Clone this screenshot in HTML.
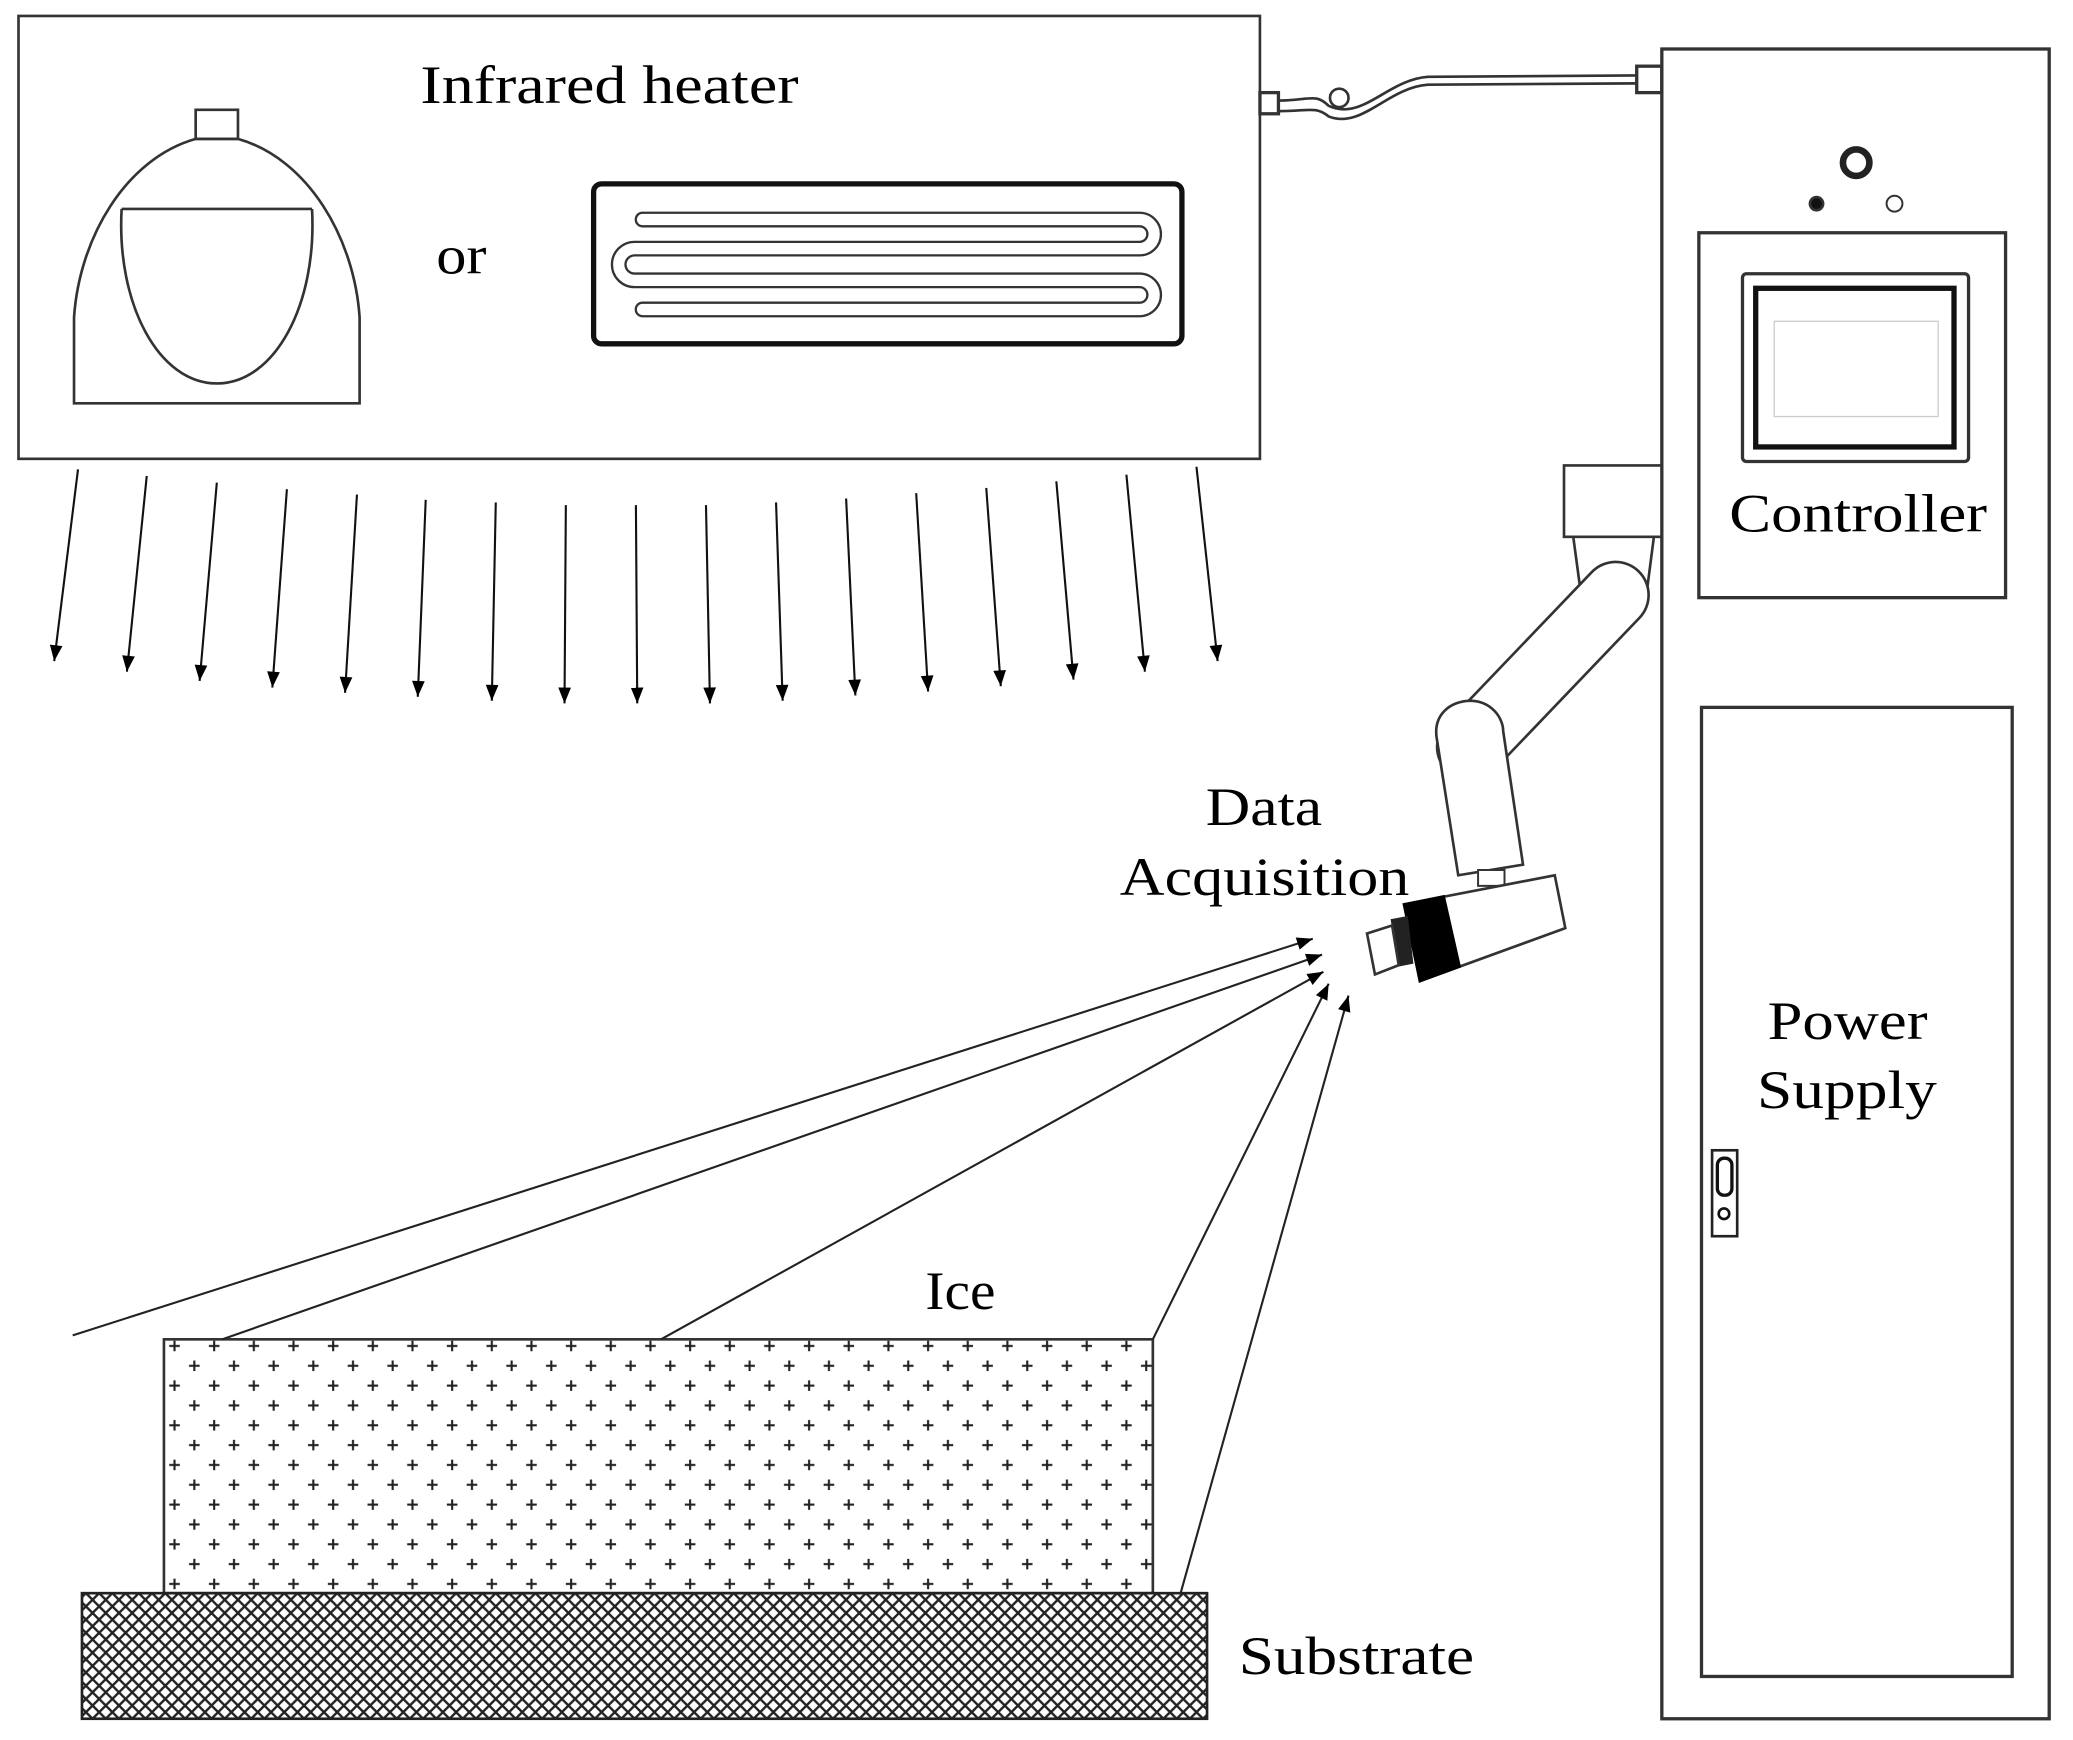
<!DOCTYPE html>
<html><head><meta charset="utf-8"><style>
html,body{margin:0;padding:0;background:#fff;}
svg{display:block;}
text{font-family:"Liberation Serif",serif;fill:#000;}
</style></head><body>
<svg width="2073" height="1740" viewBox="0 0 1568 1316" xmlns="http://www.w3.org/2000/svg">
<defs>
<pattern id="ice" x="124" y="1013" width="30" height="30" patternUnits="userSpaceOnUse">
<path d="M4,5 h8 M8,1 v8 M19,20 h8 M23,16 v8" stroke="#222" stroke-width="1.6"/>
</pattern>
<pattern id="hatch" x="0" y="0" width="10" height="10" patternUnits="userSpaceOnUse">
<path d="M0,0 L10,10 M10,0 L0,10 M-5,5 L5,15 M5,-5 L15,5 M5,-5 L-5,5 M15,5 L5,15" stroke="#222" stroke-width="1.8"/>
</pattern>
<marker id="ah2" viewBox="0 0 10 10" refX="10" refY="5" markerWidth="20" markerHeight="12" markerUnits="userSpaceOnUse" orient="auto">
<path d="M0,1 L10,5 L0,9 Z" fill="#000"/>
</marker>
</defs>
<g fill="none" stroke="#333" stroke-width="2">
<rect x="14" y="12" width="939" height="335"/>
<rect x="148" y="83" width="32" height="22"/>
<path d="M56,305 L56,240 C60,180 95,120 148,105 L180,105 C233,120 268,180 272,240 L272,305 Z"/>
<path d="M92,158 L236,158"/>
<path d="M92,158 C88,230 120,290 164,290 C208,290 240,230 236,158"/>
<rect x="449" y="139" width="445" height="121" rx="6" stroke="#111" stroke-width="4"/>
<path d="M486,166 H862 A11,11 0 0 1 862,188 H480 A12,12 0 0 0 480,212 H862 A11,11 0 0 1 862,234 H486" stroke="#333" stroke-width="12" stroke-linecap="round"/>
<path d="M486,166 H862 A11,11 0 0 1 862,188 H480 A12,12 0 0 0 480,212 H862 A11,11 0 0 1 862,234 H486" stroke="#fff" stroke-width="8.5" stroke-linecap="round"/>
<rect x="953" y="70" width="14" height="16" stroke-width="2.5"/>
<path d="M967,76 C990,76 995,70 1005,80 C1030,92 1050,60 1080,58 L1238,57" stroke-width="2"/>
<path d="M967,84 C990,84 995,80 1005,88 C1030,98 1050,66 1080,64 L1238,63" stroke-width="2"/>
<circle cx="1013" cy="74" r="7" stroke-width="2"/>
<rect x="1238" y="50" width="19" height="20" stroke-width="2.5"/>
<rect x="1257" y="37" width="293" height="1263" stroke-width="2.5"/>
<circle cx="1404" cy="123" r="10" stroke="#222" stroke-width="5"/>
<circle cx="1374" cy="154" r="5" fill="#111"/>
<circle cx="1433" cy="154" r="6" stroke-width="1.5"/>
<rect x="1285" y="176" width="232" height="276" stroke-width="2.5"/>
<rect x="1318" y="207" width="171" height="142" rx="3" stroke-width="2.5"/>
<rect x="1328" y="218" width="150" height="120" stroke="#111" stroke-width="4"/>
<rect x="1342" y="243" width="124" height="72" stroke="#ccc" stroke-width="1"/>
<rect x="1287" y="535" width="235" height="733" stroke-width="2.5"/>
<rect x="1295" y="870" width="19" height="65" stroke="#222" stroke-width="2"/>
<rect x="1299" y="876" width="11" height="28" rx="5" stroke="#111" stroke-width="2.5"/>
<circle cx="1304" cy="918" r="4" stroke="#111" stroke-width="2"/>
<rect x="1183" y="352" width="74" height="54"/>
<path d="M1190,406 L1197,458 M1251,406 L1244,460"/>
<line x1="1112" y1="565" x2="1222" y2="450" stroke="#333" stroke-width="52" stroke-linecap="round"/>
<line x1="1112" y1="565" x2="1222" y2="450" stroke="#fff" stroke-width="48" stroke-linecap="round"/>
<path d="M1087,560 C1083,540 1098,530 1112,530 C1128,530 1137,543 1137,553 L1152,654 L1103,662 Z" fill="#fff" stroke-width="2"/>
<rect x="1118" y="658" width="20" height="12" fill="#fff" stroke-width="1.5"/>
<path d="M1062,684 L1176,662 L1184,702 L1074,742 Z" fill="#fff" stroke-width="2"/>
<path d="M1062,684 L1092,678 L1104,731 L1074,742 Z" fill="#000" stroke="#000"/>
<path d="M1053,696 L1064,694 L1068,728 L1058,730 Z" fill="#222" stroke="#222"/>
<path d="M1034,706 L1053,700 L1058,730 L1040,737 Z" fill="#fff" stroke-width="2"/>
<rect x="124" y="1013" width="748" height="192" fill="url(#ice)" stroke-width="2"/>
<rect x="62" y="1205" width="851" height="95" fill="url(#hatch)" stroke="#222" stroke-width="2"/>
</g>
<g stroke="#111" stroke-width="1.6" marker-end="url(#ah2)">
<line x1="59" y1="355" x2="41" y2="500"/>
<line x1="111" y1="360" x2="96" y2="508"/>
<line x1="164" y1="365" x2="151" y2="515"/>
<line x1="217" y1="370" x2="206" y2="520"/>
<line x1="270" y1="374" x2="261" y2="524"/>
<line x1="322" y1="378" x2="316" y2="527"/>
<line x1="375" y1="380" x2="372" y2="530"/>
<line x1="428" y1="382" x2="427" y2="532"/>
<line x1="481" y1="382" x2="482" y2="532"/>
<line x1="534" y1="382" x2="537" y2="532"/>
<line x1="587" y1="380" x2="592" y2="530"/>
<line x1="640" y1="377" x2="647" y2="526"/>
<line x1="693" y1="373" x2="702" y2="523"/>
<line x1="746" y1="369" x2="757" y2="519"/>
<line x1="799" y1="364" x2="812" y2="514"/>
<line x1="852" y1="359" x2="866" y2="508"/>
<line x1="905" y1="353" x2="921" y2="500"/>
</g>
<g stroke="#222" stroke-width="1.6" marker-end="url(#ah2)">
<line x1="55" y1="1010" x2="993" y2="710"/>
<line x1="168" y1="1013" x2="1000" y2="722"/>
<line x1="500" y1="1013" x2="1001" y2="735"/>
<line x1="872" y1="1013" x2="1005" y2="744"/>
<line x1="893" y1="1205" x2="1020" y2="753"/>
</g>
<g font-size="41">
<text x="318" y="78" textLength="286" lengthAdjust="spacingAndGlyphs">Infrared heater</text>
<text x="330" y="207" textLength="38" lengthAdjust="spacingAndGlyphs">or</text>
<text x="1308" y="402" textLength="195" lengthAdjust="spacingAndGlyphs">Controller</text>
<text x="1337" y="786" textLength="121" lengthAdjust="spacingAndGlyphs">Power</text>
<text x="1329" y="838" textLength="136" lengthAdjust="spacingAndGlyphs">Supply</text>
<text x="912" y="624" textLength="88" lengthAdjust="spacingAndGlyphs">Data</text>
<text x="847" y="677" textLength="219" lengthAdjust="spacingAndGlyphs">Acquisition</text>
<text x="700" y="990" textLength="53" lengthAdjust="spacingAndGlyphs">Ice</text>
<text x="937" y="1266" textLength="178" lengthAdjust="spacingAndGlyphs">Substrate</text>
</g>
</svg>
</body></html>
